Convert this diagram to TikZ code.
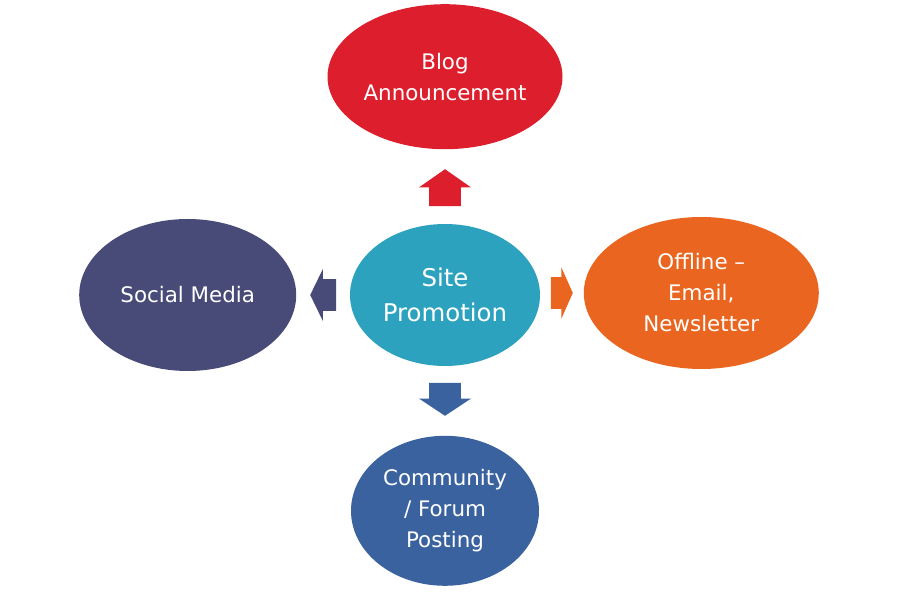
\documentclass[tikz,border=0pt]{standalone}
\usepackage{fontspec}
\setmainfont{DejaVu Sans}
\usetikzlibrary{
  positioning,
  shapes.geometric,
  shapes.arrows
}
\definecolor{sitePromo}{RGB}{44,162,190}
\definecolor{siteBlog}{RGB}{221,31,45}
\definecolor{siteSocial}{RGB}{72,74,120}
\definecolor{siteOffline}{RGB}{234,101,31}
\definecolor{siteForum}{RGB}{57,98,159}
\tikzset{
  sitebubble/.style={
    ellipse,
    draw=none,
    inner sep=0pt,
    align=center,
    text=white,
    font=\fontsize{10.7}{15.5}\selectfont
  },
  sitearrow/.style={
    single arrow,
    draw=none,
    inner xsep=0pt,
    inner ysep=7.75pt,
    single arrow head extend=5pt
  },
  sitearrowv/.style={
    sitearrow,
    inner xsep=7.75pt,
    inner ysep=0pt
  }
}

\begin{document}
\begin{tikzpicture}
  \useasboundingbox (0,0) rectangle (450pt,300pt);

  \node[sitebubble, fill=sitePromo, minimum width=95pt, minimum height=71pt,
    font=\fontsize{12.2}{17.5}\selectfont] (promo) at (222.5pt,152.5pt)
    {Site\\Promotion};
  \node[sitebubble, fill=siteBlog, minimum width=117.5pt, minimum height=72.5pt,
    above=37pt of promo] (blog)
    {Blog\\Announcement};
  \node[sitebubble, fill=siteSocial, minimum width=108.5pt, minimum height=76pt,
    left=26.5pt of promo] (social)
    {Social Media};
  \node[sitebubble, fill=siteOffline, minimum width=117.5pt, minimum height=76pt,
    right=21.5pt of promo, yshift=1pt] (offline)
    {Offline --\\Email,\\Newsletter};
  \node[sitebubble, fill=siteForum, minimum width=94pt, minimum height=75pt,
    below=34.5pt of promo] (forum)
    {Community\\/ Forum\\Posting};

  \node[sitearrowv, fill=siteBlog, shape border rotate=90, minimum height=18.5pt,
    single arrow tip angle=110, above=8.5pt of promo, anchor=tail] (toblog) {};
  \node[sitearrow, fill=siteSocial, shape border rotate=180, minimum height=13pt,
    single arrow tip angle=128, left=6.5pt of promo, anchor=tail] (tosocial) {};
  \node[sitearrow, fill=siteOffline, minimum height=11pt,
    single arrow tip angle=132, right=5pt of promo, anchor=tail, yshift=1pt] (tooffline) {};
  \node[sitearrowv, fill=siteForum, shape border rotate=270, minimum height=16.5pt,
    single arrow tip angle=113, below=8pt of promo, anchor=tail] (toforum) {};
\end{tikzpicture}
\end{document}
